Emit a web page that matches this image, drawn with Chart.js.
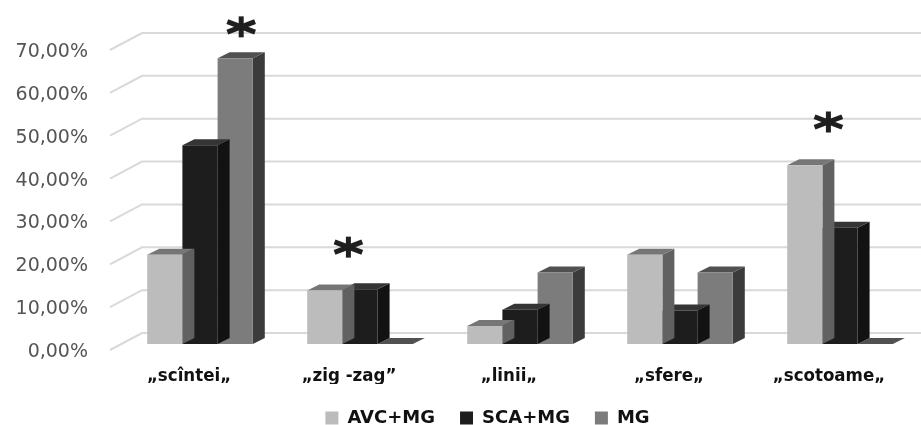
<!DOCTYPE html>
<html>
<head>
<meta charset="utf-8">
<script src="https://cdn.jsdelivr.net/npm/chart.js@4.4.1/dist/chart.umd.min.js"></script>
<style>
  html, body { margin: 0; padding: 0; background: #fff; }
  canvas { display: block; }
</style>
</head>
<body>
<canvas id="grafic" width="921" height="425"></canvas>
<script>
// date (procente)
const categorii = ['„scîntei„', '„zig -zag”', '„linii„', '„sfere„', '„scotoame„'];
const serii = ['AVC+MG', 'SCA+MG', 'MG'];
const valAVC = [20.8, 12.5, 4.2, 20.8, 41.7];
const valSCA = [46.4, 12.8, 8.0, 7.8, 27.1];
const valMG = [66.7, 0, 16.7, 16.7, 0];
const yTicks = [0, 10, 20, 30, 40, 50, 60, 70];

// asteriscuri (semnificatie): categoria, bara de referinta, nivelul
const stele = [
    { cat: 0, bara: 2, nivel: 74 },
    { cat: 1, bara: 0, nivel: 22.6 },
    { cat: 4, bara: 0, nivel: 51.8 }
];

const culoriFata = ['#bcbcbc', '#1d1d1d', '#7c7c7c'];
const culoriSus = ['#767676', '#353535', '#515151'];
const culoriLaterala = ['#616161', '#121212', '#3b3b3b'];
const adX = 12, adY = 6;          // adancimea barelor
const peretX = 32, peretY = 17;   // adancimea podelei / peretelui

const fundalAlb = {
    id: 'fundalAlb',
    beforeDraw(chart) {
        const ctx = chart.ctx;
        ctx.save();
        ctx.fillStyle = '#fff';
        ctx.fillRect(0, 0, chart.width, chart.height);
        ctx.restore();
    }
};

// legenda e centrata sub zona graficului, nu sub toata imaginea
const legendaDeplasata = {
    id: 'legendaDeplasata',
    afterLayout(chart) {
        if (chart.legend) chart.legend.left = 55;
    }
};

// liniile de grila pe perete, cu segmentul oblic din stanga
const grila3D = {
    id: 'grila3D',
    beforeDatasetsDraw(chart) {
        const { ctx, chartArea, scales } = chart;
        ctx.save();
        ctx.strokeStyle = '#d9d9d9';
        ctx.lineWidth = 2;
        scales.y.ticks.forEach(t => {
            const y = scales.y.getPixelForValue(t.value);
            const fx = chartArea.left - 10, fy = y + adY;
            ctx.beginPath();
            ctx.moveTo(fx, fy);
            ctx.lineTo(fx + peretX, fy - peretY);
            ctx.lineTo(chart.width, fy - peretY);
            ctx.stroke();
        });
        ctx.restore();
    }
};

// fetele de sus si laterale ale barelor
const bare3D = {
    id: 'bare3D',
    beforeDatasetDraw(chart, args) {
        const ctx = chart.ctx;
        const i = args.index;
        ctx.save();
        args.meta.data.forEach(el => {
            const { x, y, base, width } = el.getProps(['x', 'y', 'base', 'width'], true);
            const st = x - width / 2, dr = x + width / 2;
            // laterala
            ctx.fillStyle = culoriLaterala[i];
            ctx.beginPath();
            ctx.moveTo(dr, y);
            ctx.lineTo(dr + adX, y - adY);
            ctx.lineTo(dr + adX, base - adY);
            ctx.lineTo(dr, base);
            ctx.closePath();
            ctx.fill();
            // sus
            ctx.fillStyle = culoriSus[i];
            ctx.beginPath();
            ctx.moveTo(st, y);
            ctx.lineTo(st + adX, y - adY);
            ctx.lineTo(dr + adX, y - adY);
            ctx.lineTo(dr, y);
            ctx.closePath();
            ctx.fill();
        });
        ctx.restore();
    }
};

const asteriscuri = {
    id: 'asteriscuri',
    afterDatasetsDraw(chart) {
        const ctx = chart.ctx;
        const yS = chart.scales.y;
        ctx.save();
        ctx.strokeStyle = '#1f1f1f';
        ctx.lineWidth = 5;
        stele.forEach(s => {
            const el = chart.getDatasetMeta(s.bara).data[s.cat];
            const { x, width } = el.getProps(['x', 'width'], true);
            const cx = (s.bara === 2 ? x : x + width / 2) + adX / 2;
            const cy = yS.getPixelForValue(s.nivel);
            for (let k = 0; k < 3; k++) {
                const a = Math.PI / 2 + k * Math.PI / 3;
                const dx = Math.cos(a) * 16, dy = Math.sin(a) * 10.5;
                ctx.beginPath();
                ctx.moveTo(cx - dx, cy - dy);
                ctx.lineTo(cx + dx, cy + dy);
                ctx.stroke();
            }
        });
        ctx.restore();
    }
};

const ctx = document.getElementById('grafic').getContext('2d');
new Chart(ctx, {
    type: 'bar',
    data: {
        labels: categorii,
        datasets: [
            { label: serii[0], data: valAVC, backgroundColor: culoriFata[0] },
            { label: serii[1], data: valSCA, backgroundColor: culoriFata[1] },
            { label: serii[2], data: valMG, backgroundColor: culoriFata[2] }
        ]
    },
    options: {
        responsive: false,
        animation: false,
        devicePixelRatio: 1,
        layout: { padding: { top: 44, left: 0, right: 1, bottom: 0 } },
        datasets: { bar: { categoryPercentage: 0.66, barPercentage: 1 } },
        scales: {
            x: {
                grid: { display: false, drawTicks: false },
                border: { display: false },
                afterFit(scale) { scale.height = 40; },
                ticks: {
                    color: '#111',
                    padding: 21,
                    labelOffset: -11,
                    maxRotation: 0,
                    font: { family: "'DejaVu Sans Condensed', 'DejaVu Sans'", size: 18.5, weight: 'bold' }
                }
            },
            y: {
                min: 0,
                max: 70,
                afterBuildTicks(scale) { scale.ticks = yTicks.map(v => ({ value: v })); },
                afterFit(scale) { scale.width = 120; },
                grid: { display: false, drawTicks: false },
                border: { display: false },
                ticks: {
                    color: '#555',
                    padding: 32,
                    labelOffset: 8,
                    font: { family: "'DejaVu Sans'", size: 19 },
                    callback: v => v.toFixed(2).replace('.', ',') + '%'
                }
            }
        },
        plugins: {
            tooltip: { enabled: false },
            legend: {
                position: 'bottom',
                maxHeight: 41,
                labels: {
                    boxWidth: 13,
                    boxHeight: 13,
                    padding: 25,
                    color: '#111',
                    font: { family: "'DejaVu Sans'", size: 18, weight: 'bold' }
                }
            }
        }
    },
    plugins: [fundalAlb, legendaDeplasata, grila3D, bare3D, asteriscuri]
});
</script>
</body>
</html>
